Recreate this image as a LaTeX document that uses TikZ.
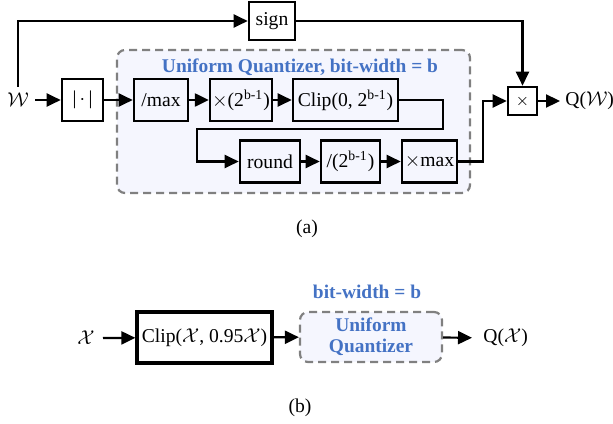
\documentclass[tikz,border=0pt]{standalone}
\usepackage{fontspec}
\setmainfont{Liberation Serif}
\usetikzlibrary{arrows.meta,positioning}
\definecolor{QBlue}{RGB}{68,114,196}
\definecolor{QFill}{RGB}{245,246,254}
\definecolor{QGray}{RGB}{128,128,128}

\begin{document}
\begin{tikzpicture}[x=0.5pt,y=-0.5pt,
  font=\fontsize{9.8}{11.5}\selectfont,
  >={Triangle[length=7pt,width=6.5pt]},
  blk/.style={draw,line width=1.3pt,inner sep=1pt,minimum height=21pt},
  qbox/.style={draw=QGray,fill=QFill,line width=1.1pt,dash pattern=on 4pt off 2.5pt,rounded corners=4pt},
  qtxt/.style={text=QBlue,font=\fontsize{9.7}{11.5}\selectfont\bfseries},
  conn/.style={->,line width=1.1pt},
]
\useasboundingbox (0,0) rectangle (613,423);
% (a) weight quantizer
\node[qbox,minimum width=176.5pt,minimum height=71.5pt] (uqa) at (293.5,121.5) {};
\node[qtxt] (title) at (300,67) {Uniform Quantizer, bit-width = b};
\node[inner sep=3pt] (win) at (18,100) {$\mathcal{W}$};
\node[blk,minimum width=20.5pt] (abs) at (82.5,100) {|\,$\cdot$\,|};
\node[blk,minimum width=27pt] (max) at (161,100) {/max};
\node[blk,minimum width=29pt] (mul) at (241,100) {$\times$(2\textsuperscript{b-1})};
\node[blk,minimum width=52.5pt] (clip) at (345.5,100) {Clip(0, 2\textsuperscript{b-1})};
\node[blk,minimum width=30pt] (round) at (270,161.5) {round};
\node[blk,minimum width=29.5pt] (div) at (350.5,161.5) {/(2\textsuperscript{b-1})};
\node[blk,minimum width=27.5pt] (xmax) at (429.5,161.5) {$\times$max};
\node[blk,minimum width=23pt,minimum height=19pt] (sign) at (272,21) {sign};
\node[blk,minimum width=14.5pt,minimum height=14pt,inner sep=0pt,font=\fontsize{8}{9}\selectfont] (prod) at (522.5,101) {$\times$};
\node[anchor=west,inner sep=2.5pt] (qw) at (560,101) {Q($\mathcal{W}$)};
\node (capa) at (307,229) {(a)};
\coordinate (ret) at (443,129);
\coordinate (up) at (483,161.5);
\draw[conn] (win.north) |- (sign);
\draw[conn] (sign) -| (prod);
\draw[conn] (win.east) -- (abs);
\draw[conn] (abs) -- (max);
\draw[conn] (max) -- (mul);
\draw[conn] (mul) -- (clip);
\draw[conn] (clip.east) -| (ret) -| (197,161.5) -- (round);
\draw[conn] (round) -- (div);
\draw[conn] (div) -- (xmax);
\draw[conn] (xmax) -- (up) |- (prod);
\draw[conn] (prod) -- (qw);
% (b) activation quantizer
\node[inner sep=4pt] (xin) at (86,338) {$\mathcal{X}$};
\node[blk,line width=1.6pt,minimum width=67.5pt,minimum height=25.5pt] (clipx) at (204.5,337.5) {Clip($\mathcal{X}$, 0.95$\mathcal{X}$)};
\node[qbox,minimum width=71pt,minimum height=25pt,qtxt,align=center,inner sep=0pt] (uqb) at (371,337) {Uniform\\[-1pt]Quantizer};
\node[qtxt] (bw) at (367,292) {bit-width = b};
\node[anchor=west,inner sep=5.5pt] (qx) at (472,338) {Q($\mathcal{X}$)};
\node (capb) at (300,408) {(b)};
\draw[conn] (xin.east) -- (clipx);
\draw[conn] (clipx) -- (uqb);
\draw[conn] (uqb) -- (qx);
\end{tikzpicture}
\end{document}
